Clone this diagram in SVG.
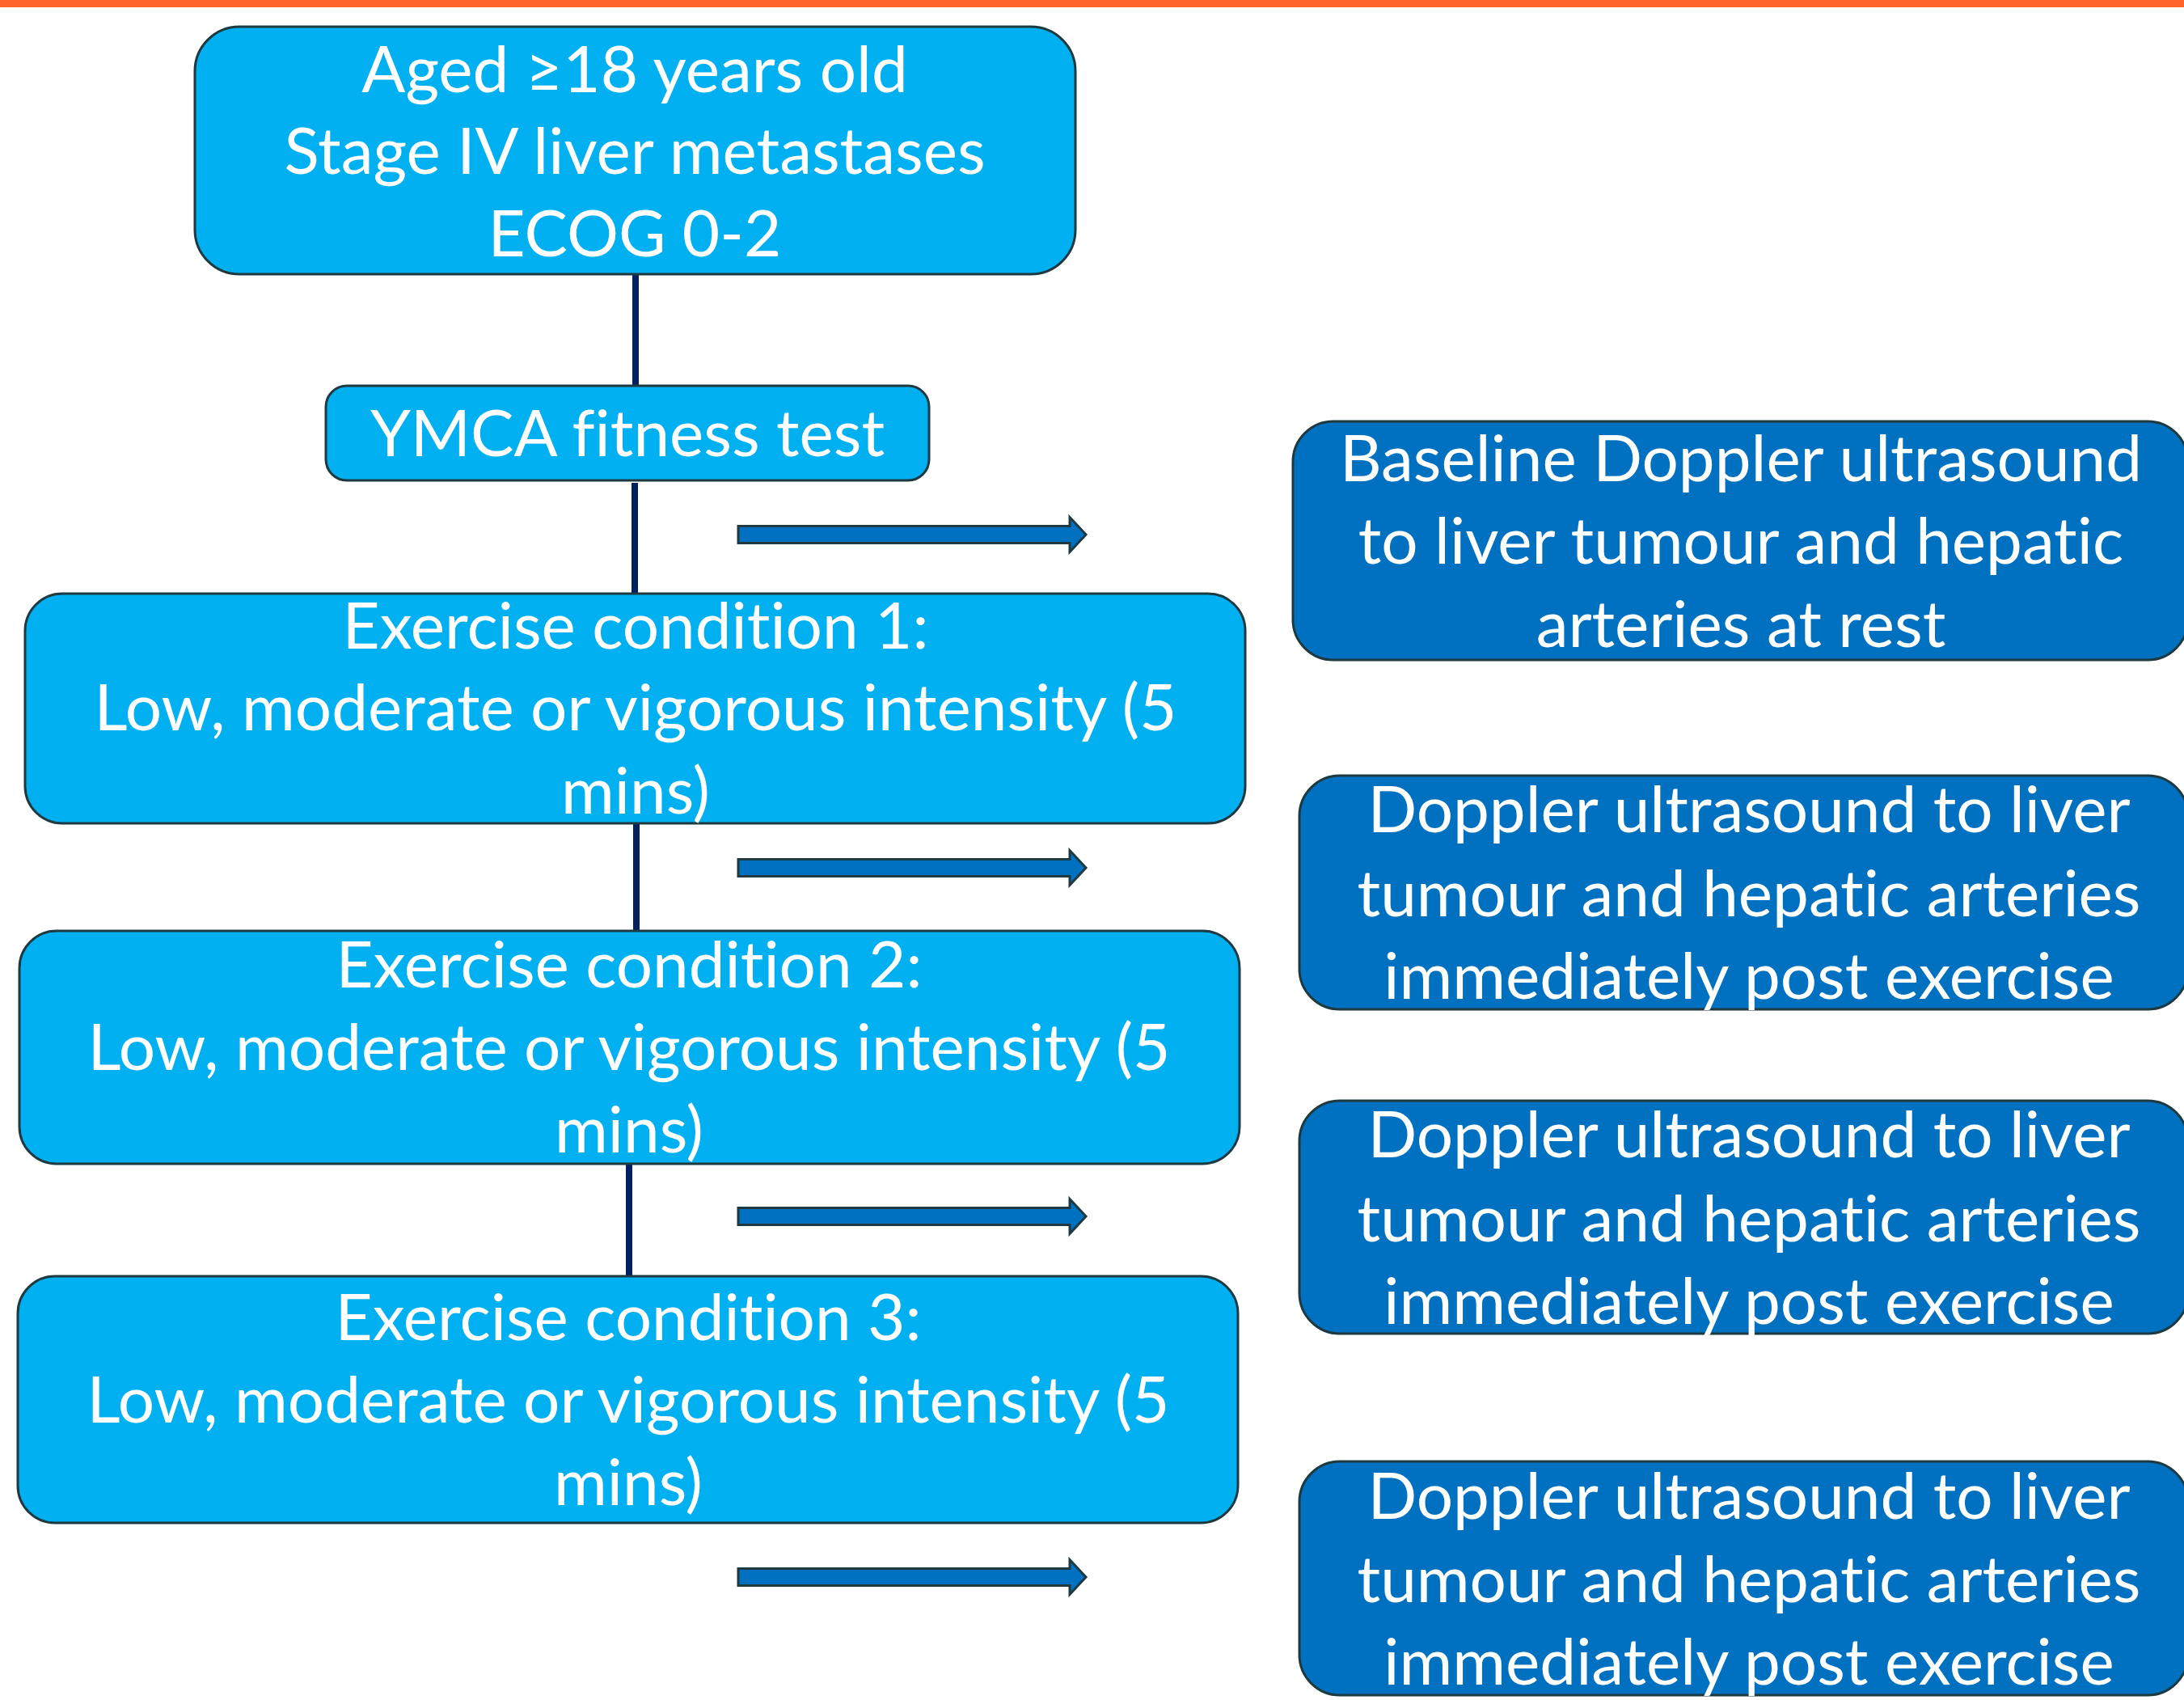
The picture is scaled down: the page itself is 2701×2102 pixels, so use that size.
<svg xmlns="http://www.w3.org/2000/svg" width="2701" height="2102" viewBox="0 0 2701 2102">
<style>
.lb{fill:#00B0F0;stroke:#1E3A40;stroke-width:3}
.db{fill:#0070C0;stroke:#1E3A40;stroke-width:3}
.t{fill:#FFFFFF;font-family:Lato,"Liberation Sans",sans-serif;font-size:80px;text-anchor:middle;font-variant-ligatures:none;font-feature-settings:"liga" 0}
.c{stroke:#002060;stroke-width:8;fill:none}
.ar{fill:#0070C0;stroke:#1E3A40;stroke-width:3;stroke-linejoin:miter}
</style>
<rect x="0" y="0" width="2701" height="2102" fill="#FFFFFF"/>
<rect x="0" y="0" width="2701" height="9" fill="#FF6428"/>
<g id="connectors">
<line class="c" x1="786" y1="339" x2="786" y2="477"/>
<line class="c" x1="785" y1="597" x2="785" y2="734"/>
<line class="c" x1="787" y1="1018" x2="787" y2="1151"/>
<line class="c" x1="778" y1="1440" x2="778" y2="1578"/>
<path class="ar" d="M913 650.5H1323V639.5L1343 661L1323 682.5V671.5H913Z"/>
<path class="ar" d="M913 1062.5H1323V1051.5L1343 1073L1323 1094.5V1083.5H913Z"/>
<path class="ar" d="M913 1493.5H1323V1482.5L1343 1504L1323 1525.5V1514.5H913Z"/>
<path class="ar" d="M913 1939.5H1323V1928.5L1343 1950L1323 1971.5V1960.5H913Z"/>
</g>
<g id="node-eligibility">
<rect class="lb" x="241" y="33" width="1089" height="306" rx="55" ry="55"/>
<text class="t" x="785" y="114">Aged ≥18 years old</text>
<text class="t" x="785" y="215">Stage IV liver metastases</text>
<text class="t" x="785" y="317">ECOG 0-2</text>
</g>
<g id="node-ymca">
<rect class="lb" x="403" y="477" width="746" height="117" rx="26" ry="26"/>
<text class="t" x="776" y="564">YMCA fitness test</text>
</g>
<g id="node-exercise1">
<rect class="lb" x="31" y="734" width="1509" height="284" rx="46" ry="46"/>
<text class="t" x="786" y="802">Exercise condition 1:</text>
<text class="t" x="786" y="903">Low, moderate or vigorous intensity (5</text>
<text class="t" x="786" y="1006">mins)</text>
</g>
<g id="node-exercise2">
<rect class="lb" x="24" y="1151" width="1509" height="288" rx="46" ry="46"/>
<text class="t" x="778" y="1221">Exercise condition 2:</text>
<text class="t" x="778" y="1323">Low, moderate or vigorous intensity (5</text>
<text class="t" x="778" y="1425">mins)</text>
</g>
<g id="node-exercise3">
<rect class="lb" x="22" y="1578" width="1509" height="305" rx="46" ry="46"/>
<text class="t" x="777" y="1657">Exercise condition 3:</text>
<text class="t" x="777" y="1759">Low, moderate or vigorous intensity (5</text>
<text class="t" x="777" y="1861">mins)</text>
</g>
<g id="node-doppler-baseline">
<rect class="db" x="1599" y="521" width="1107" height="295" rx="50" ry="50"/>
<text class="t" x="2153" y="595">Baseline Doppler ultrasound</text>
<text class="t" x="2153" y="697">to liver tumour and hepatic</text>
<text class="t" x="2153" y="800">arteries at rest</text>
</g>
<g id="node-doppler-post1">
<rect class="db" x="1607" y="959" width="1099" height="289" rx="50" ry="50"/>
<text class="t" x="2163" y="1029">Doppler ultrasound to liver</text>
<text class="t" x="2163" y="1133">tumour and hepatic arteries</text>
<text class="t" x="2163" y="1235">immediately post exercise</text>
</g>
<g id="node-doppler-post2">
<rect class="db" x="1607" y="1361" width="1099" height="288" rx="50" ry="50"/>
<text class="t" x="2163" y="1431">Doppler ultrasound to liver</text>
<text class="t" x="2163" y="1535">tumour and hepatic arteries</text>
<text class="t" x="2163" y="1637">immediately post exercise</text>
</g>
<g id="node-doppler-post3">
<rect class="db" x="1607" y="1807" width="1099" height="289" rx="50" ry="50"/>
<text class="t" x="2163" y="1878">Doppler ultrasound to liver</text>
<text class="t" x="2163" y="1981">tumour and hepatic arteries</text>
<text class="t" x="2163" y="2083">immediately post exercise</text>
</g>
</svg>
